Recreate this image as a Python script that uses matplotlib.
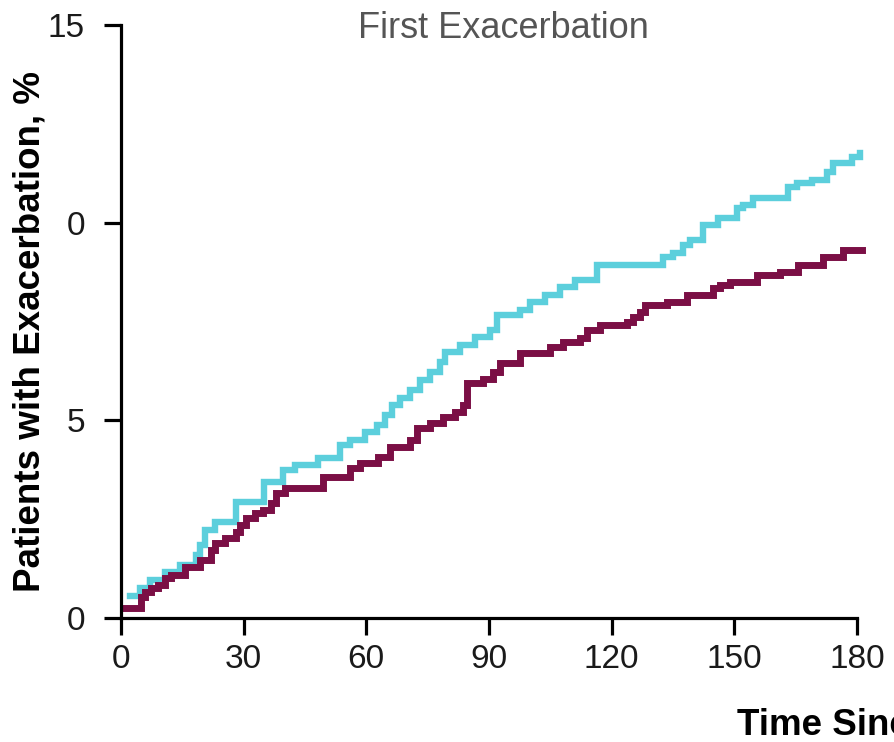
import matplotlib
matplotlib.use("Agg")
import matplotlib.pyplot as plt

plt.rcParams['font.family'] = ['Liberation Sans', 'DejaVu Sans']

# Kaplan-Meier style cumulative incidence
teal_days = [2.2, 4.6, 7.1, 10.8, 14.4, 18.3, 19.3, 20.5, 23.0, 28.1, 35.0, 39.6,
             42.6, 48.2, 53.6, 56.0, 59.7, 62.6, 64.6, 66.3, 68.2, 70.7, 73.1, 75.6,
             78.0, 79.2, 82.9, 86.6, 90.2, 92.0, 97.6, 100.0, 103.7, 107.4, 111.0,
             116.4, 132.5, 135.0, 137.4, 139.2, 142.3, 146.0, 150.6, 152.1, 154.6,
             163.1, 165.3, 169.0, 172.7, 174.1, 178.8, 180.7]
teal_pct = [0.56, 0.76, 0.96, 1.16, 1.34, 1.59, 1.85, 2.23, 2.43, 2.93, 3.44, 3.74,
            3.87, 4.05, 4.38, 4.50, 4.71, 4.88, 5.14, 5.39, 5.57, 5.77, 6.02, 6.22,
            6.48, 6.73, 6.91, 7.11, 7.29, 7.67, 7.79, 7.99, 8.17, 8.37, 8.55,
            8.93, 9.13, 9.23, 9.44, 9.56, 9.94, 10.12, 10.37, 10.45, 10.62,
            10.90, 11.00, 11.08, 11.28, 11.51, 11.66, 11.76]

maroon_days = [1.0, 4.9, 5.9, 7.3, 9.0, 10.8, 12.2, 15.7, 19.3, 22.0, 23.0, 25.4,
               28.1, 29.1, 30.6, 32.8, 34.7, 36.7, 37.9, 40.1, 49.4, 56.0, 58.4,
               62.9, 65.8, 70.7, 72.4, 75.6, 78.7, 81.7, 83.6, 84.6, 88.5, 91.0,
               92.7, 97.6, 104.9, 108.1, 112.3, 114.0, 117.1, 123.7, 125.2, 126.9,
               128.1, 133.5, 138.4, 144.8, 146.5, 148.9, 155.5, 161.2, 165.6,
               171.7, 176.6, 181.2]
maroon_pct = [0.25, 0.53, 0.66, 0.76, 0.83, 1.01, 1.09, 1.29, 1.47, 1.72, 1.90, 2.02,
              2.18, 2.35, 2.53, 2.66, 2.73, 2.91, 3.16, 3.29, 3.57, 3.79, 3.92,
              4.07, 4.33, 4.50, 4.81, 4.93, 5.08, 5.21, 5.39, 5.94, 6.05, 6.22,
              6.45, 6.70, 6.86, 6.98, 7.08, 7.29, 7.41, 7.49, 7.61, 7.74,
              7.92, 7.99, 8.17, 8.35, 8.42, 8.50, 8.68, 8.75, 8.93,
              9.13, 9.31, 9.31]

x_ticks = [0, 30, 60, 90, 120, 150, 180]
y_ticks = [0, 5, 10, 15]
y_tick_labels = ['0', '5', '0', '15']

fig = plt.figure(figsize=(8.94, 7.42), dpi=100)
ax = fig.add_axes([0.1353, 0.1671, 0.8233, 0.7992])

ax.plot(teal_days, teal_pct, drawstyle='steps-post', color='#5ccfdc', lw=4.6,
        solid_joinstyle='miter', clip_on=False)
ax.plot(maroon_days, maroon_pct, drawstyle='steps-post', color='#7b0f45', lw=5.0,
        solid_joinstyle='miter', clip_on=False)

ax.set_xlim(0, 180)
ax.set_ylim(0, 15)
ax.set_xticks(x_ticks)
ax.set_yticks(y_ticks)
ax.set_yticklabels(y_tick_labels)

for side in ['top', 'right']:
    ax.spines[side].set_visible(False)
for side in ['left', 'bottom']:
    ax.spines[side].set_linewidth(2.3)
    ax.spines[side].set_color('black')

ax.tick_params(axis='both', direction='out', width=2.3, length=12,
               labelsize=24, labelcolor='#1a1a1a', color='black')
ax.tick_params(axis='y', pad=14)
ax.tick_params(axis='x', pad=7)

# title sits a bit right of the axes centre in the reference
fig.text(503 / 894, 1 - 28 / 742, 'First Exacerbation', fontsize=26,
         color='#555555', ha='center', va='center')

fig.text(30 / 894, 1 - 332 / 742, 'Patients with Exacerbation, %', rotation=90,
         fontsize=26.5, fontweight='bold', ha='center', va='center')
fig.text(737 / 894, 7 / 742, 'Time Since Randomization, days', fontsize=26.5,
         fontweight='bold', ha='left', va='baseline')

fig.savefig('out.png', dpi=100)
